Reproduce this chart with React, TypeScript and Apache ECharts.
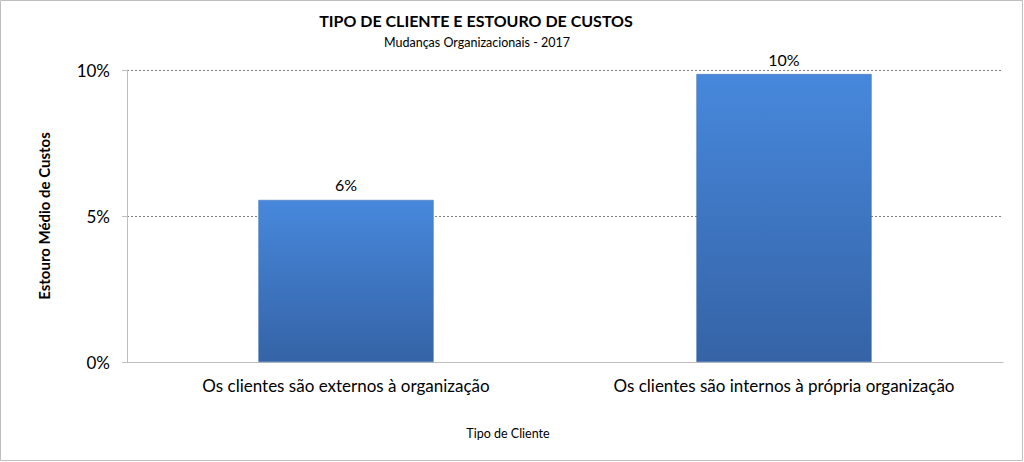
import React, { useEffect, useRef } from "react";
import * as echarts from "echarts";

const categories = [
  "Os clientes são externos à organização",
  "Os clientes são internos à própria organização",
];
const values = [0.0555, 0.0986];
const yTicks = [0, 0.05, 0.1];

const FONT = "Lato, 'Open Sans', sans-serif";

export default function App() {
  const ref = useRef<HTMLDivElement>(null);
  useEffect(() => {
    if (!ref.current) return;
    const chart = echarts.init(ref.current, undefined, { renderer: "svg" });
    chart.setOption({
      animation: false,
      backgroundColor: "#ffffff",
      textStyle: { fontFamily: FONT },
      grid: { left: 127, right: 21, top: 70, bottom: 100, containLabel: false },
      xAxis: {
        type: "category",
        data: categories,
        axisLine: { show: true, lineStyle: { color: "#bfbfbf", width: 1 } },
        axisTick: { show: false },
        axisLabel: {
          color: "#000",
          fontSize: 17,
          margin: 15,
          fontFamily: FONT,
          interval: 0,
          hideOverlap: false,
        },
      },
      yAxis: {
        type: "value",
        min: yTicks[0],
        max: yTicks[yTicks.length - 1],
        interval: 0.05,
        name: "Estouro Médio de Custos",
        nameLocation: "middle",
        nameGap: 76,
        nameRotate: 90,
        nameTextStyle: { color: "#000", fontSize: 15, fontWeight: "bold", fontFamily: FONT },
        axisLine: { show: true, lineStyle: { color: "#bfbfbf", width: 1 } },
        axisTick: { show: true, length: 5, lineStyle: { color: "#bfbfbf" } },
        axisLabel: {
          color: "#000",
          fontSize: 17,
          margin: 17,
          fontFamily: FONT,
          formatter: (v: number) => Math.round(v * 100) + "%",
        },
        splitLine: { show: true, lineStyle: { color: "#808080", type: [2, 2], width: 1 } },
      },
      series: [
        {
          type: "bar",
          data: values,
          barCategoryGap: "60%",
          itemStyle: {
            color: new echarts.graphic.LinearGradient(0, 0, 0, 1, [
              { offset: 0, color: "#4788dc" },
              { offset: 1, color: "#3563a6" },
            ]),
            borderColor: "#3a6db0",
            borderWidth: 0.5,
          },
          label: {
            show: true,
            position: "top",
            distance: 7,
            color: "#000",
            fontSize: 16,
            fontFamily: FONT,
            formatter: (p: any) => Math.round(p.value * 100) + "%",
          },
        },
      ],
      graphic: [
        {
          type: "rect",
          shape: { x: 0.5, y: 0.5, width: 1022, height: 460 },
          style: { fill: "none", stroke: "#bfbfbf", lineWidth: 1 },
          silent: true,
        },
        {
          type: "text",
          x: 476,
          y: 20,
          style: {
            text: "TIPO DE CLIENTE E ESTOURO DE CUSTOS",
            fill: "#000",
            font: "bold 16px " + FONT,
            align: "center",
            verticalAlign: "middle",
          },
        },
        {
          type: "text",
          x: 477,
          y: 42,
          style: {
            text: "Mudanças Organizacionais - 2017",
            fill: "#000",
            font: "12.5px " + FONT,
            align: "center",
            verticalAlign: "middle",
          },
        },
        {
          type: "text",
          x: 508,
          y: 433,
          style: {
            text: "Tipo de Cliente",
            fill: "#000",
            font: "12.5px " + FONT,
            align: "center",
            verticalAlign: "middle",
          },
        },
      ],
    });
    return () => chart.dispose();
  }, []);
  return (
    <div
      ref={ref}
      style={{ position: "fixed", left: 0, top: 0, width: 1024, height: 462 }}
    />
  );
}
